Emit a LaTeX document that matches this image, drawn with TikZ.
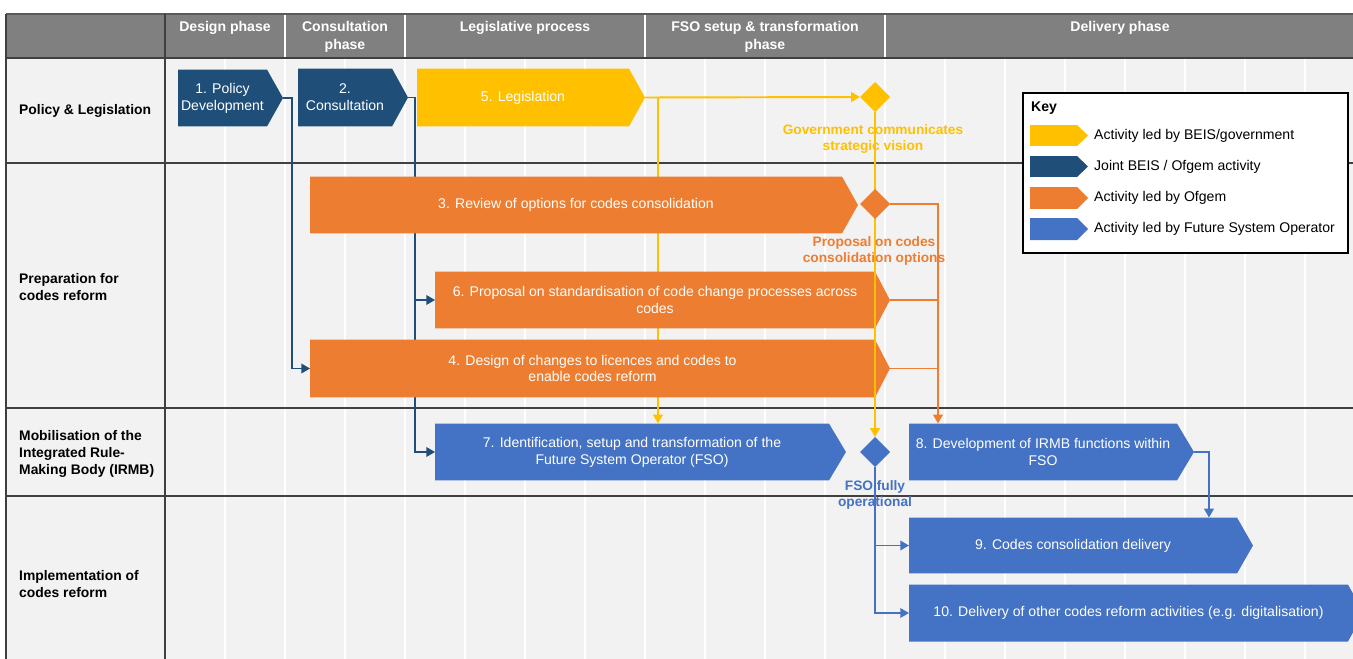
\documentclass[tikz,border=0pt]{standalone}
\usepackage{fontspec}
\setmainfont{Liberation Sans}
\usetikzlibrary{arrows.meta,calc,fit,shapes.geometric}

\definecolor{navy}{HTML}{1F4E79}
\definecolor{gold}{HTML}{FFC000}
\definecolor{ofgem}{HTML}{ED7D31}
\definecolor{fso}{HTML}{4472C4}
\definecolor{hdr}{HTML}{808080}
\definecolor{cell}{HTML}{F2F2F2}
\definecolor{rule}{HTML}{404040}

\pgfdeclarelayer{bg}
\pgfdeclarelayer{lines}
\pgfdeclarelayer{boxes}
\pgfsetlayers{bg,lines,boxes,main}

% pointed end of an activity box: node, colour, tip length
\newcommand{\acttip}[3]{%
  \fill[#2] (#1.north west) -- (#1.north east) -- ($(#1.east)+(#3,0)$) coordinate (#1-tip)
    -- (#1.south east) -- (#1.south west) -- cycle;}

\tikzset{
  txt/.style={font=\fontsize{8}{9.6}\selectfont},
  act/.style={txt, inner sep=0pt, outer sep=0pt, text=white, align=center},
  link/.style={line width=0.9pt, -{Triangle[length=5pt,width=5.5pt]}},
  milestone/.style={diamond, aspect=1, minimum size=0.6cm, inner sep=0pt, outer sep=0pt},
  mtext/.style={font=\bfseries\fontsize{7.8}{9.6}\selectfont, align=center},
  phase/.style={text=white, font=\bfseries\fontsize{8}{10}\selectfont, align=center},
  lane/.style={anchor=west, align=left, font=\bfseries\fontsize{7.9}{9.6}\selectfont},
  keytext/.style={txt, anchor=west}
}

\begin{document}
\begin{tikzpicture}[x=0.02cm, y=-0.02cm]
\useasboundingbox (0,0) rectangle (1353,659);
\clip (0,0) rectangle (1353,659);

% table
\begin{pgfonlayer}{bg}
\fill[white] (0,0) rectangle (1353,659);
\fill[hdr] (6,14) rectangle (1353,58);
\fill[cell] (6,58) rectangle (1353,659);
\foreach \k in {1,...,19}
  \draw[white, line width=0.8pt] ({165+60*\k},58) -- ({165+60*\k},659);
\foreach \x in {285,405,645,885}
  \draw[white, line width=0.8pt] (\x,14) -- (\x,58);
\draw[hdr!70!black, line width=0.6pt] (6,14) -- (1353,14);
\foreach \y in {58,163,408,496}
  \draw[rule, line width=1.2pt] (6,\y) -- (1353,\y);
\draw[rule, line width=1.2pt] (6,14) -- (6,659);
\draw[rule, line width=1.2pt] (165,14) -- (165,659);
\end{pgfonlayer}

% phases
\node[phase] (p1) at (225,28) {Design phase};
\node[phase] (p2) at (345,37) {Consultation\\phase};
\node[phase] (p3) at (525,28) {Legislative process};
\node[phase] (p4) at (765,37) {FSO setup \& transformation\\phase};
\node[phase] (p5) at (1120,28) {Delivery phase};

% lanes
\node[lane] (l1) at (13,111) {Policy \& Legislation};
\node[lane] (l2) at (13,287) {Preparation for\\codes reform};
\node[lane] (l3) at (13,454) {Mobilisation of the\\Integrated Rule-\\Making Body (IRMB)};
\node[lane] (l4) at (13,584) {Implementation of\\codes reform};

% activities
\node[act, minimum width=1.78cm, minimum height=1.14cm] (a1) at (222.5,98) {1. Policy\\Development};
\node[act, minimum width=1.88cm, minimum height=1.16cm] (a2) at (345,97.5) {2.\\Consultation};
\node[act, minimum width=4.24cm, minimum height=1.16cm] (a5) at (523,97.5) {5. Legislation};
\node[act, minimum width=10.64cm, minimum height=1.14cm] (a3) at (576,205) {3. Review of options for codes consolidation};
\node[act, minimum width=8.8cm, minimum height=1.14cm] (a6) at (655,300) {6. Proposal on standardisation of code change processes across\\codes};
\node[act, minimum width=11.3cm, minimum height=1.16cm] (a4) at (592.5,368.5) {4. Design of changes to licences and codes to\\enable codes reform};
\node[act, minimum width=7.88cm, minimum height=1.14cm] (a7) at (632,452) {7. Identification, setup and transformation of the\\Future System Operator (FSO)};
\node[act, minimum width=5.36cm, minimum height=1.14cm] (a8) at (1043,452) {8. Development of IRMB functions within\\FSO};
\node[act, minimum width=6.56cm, minimum height=1.12cm] (a9) at (1073,545.5) {9. Codes consolidation delivery};
\node[act, minimum width=8.78cm, minimum height=1.14cm] (a10) at (1128.5,613) {10. Delivery of other codes reform activities (e.g. digitalisation)};

\begin{pgfonlayer}{boxes}
\acttip{a1}{navy}{16}
\acttip{a2}{navy}{16}
\acttip{a5}{gold}{16}
\acttip{a3}{ofgem}{16}
\acttip{a6}{ofgem}{15}
\acttip{a4}{ofgem}{15}
\acttip{a7}{fso}{17}
\acttip{a8}{fso}{17}
\acttip{a9}{fso}{16}
\acttip{a10}{fso}{16}
\end{pgfonlayer}

% milestones
\node[milestone, fill=gold] (m1) at (875,97) {};
\node[milestone, fill=fso] (m3) at (875,452) {};
\draw[link, gold, line width=1.1pt] (m1.south) -- (m3.north);
\node[milestone, fill=ofgem] (m2) at (875,204) {};

\node[mtext, text=gold] (m1lbl) at (873,139) {Government communicates\\strategic vision};
\node[mtext, text=ofgem] (m2lbl) at (874,251) {Proposal on codes\\consolidation options};
\node[mtext, text=fso] (m3lbl) at (875,495) {FSO fully\\operational};

% connectors
\begin{pgfonlayer}{lines}
\draw[link, navy] (a1-tip) -- ++(9,0) |- (a4.west);
\draw[link, navy] (a2-tip) -- ++(7,0) |- (a6.west);
\draw[link, navy] (a2-tip) -- ++(7,0) |- (a7.west);
\draw[link, gold, line width=1.1pt] (a5-tip) -- (m1.west);
\draw[link, gold, line width=1.1pt] ($(a5-tip)+(13,0)$) coordinate (ysplit) -- (ysplit |- a7.north);
\draw[link, ofgem] (m2.east) -- ++(48,0) coordinate (obus) -- (obus |- a8.north);
\draw[ofgem, line width=1pt] (a6-tip) -- (a6-tip -| obus);
\draw[ofgem, line width=1pt] (a4-tip) -- (a4-tip -| obus);
\draw[link, fso] (a8-tip) -- ++(15,0) coordinate (bturn) -- (bturn |- a9.north);
\draw[link, fso] (m3.south) |- (a9.west);
\draw[link, fso] (m3.south) |- (a10.west);
\end{pgfonlayer}

% key
\node[draw=black, fill=white, line width=0.6pt, inner sep=0pt, fit={(1023,93) (1348,253)}] (key) {};
\node[anchor=west, font=\bfseries\fontsize{8}{9.6}\selectfont] (keyttl) at (1025,108) {Key};
\node[act, minimum width=0.94cm, minimum height=0.42cm] (k1) at (1053.5,135.5) {};
\node[act, minimum width=0.94cm, minimum height=0.42cm] (k2) at (1053.5,166.5) {};
\node[act, minimum width=0.94cm, minimum height=0.44cm] (k3) at (1053.5,198) {};
\node[act, minimum width=0.94cm, minimum height=0.44cm] (k4) at (1053.5,229) {};
\acttip{k1}{gold}{11}
\acttip{k2}{navy}{11}
\acttip{k3}{ofgem}{11}
\acttip{k4}{fso}{11}
\node[keytext] (k1t) at (1088,135.5) {Activity led by BEIS/government};
\node[keytext] (k2t) at (1088,166.5) {Joint BEIS / Ofgem activity};
\node[keytext] (k3t) at (1088,198) {Activity led by Ofgem};
\node[keytext] (k4t) at (1088,229) {Activity led by Future System Operator};
\end{tikzpicture}
\end{document}
